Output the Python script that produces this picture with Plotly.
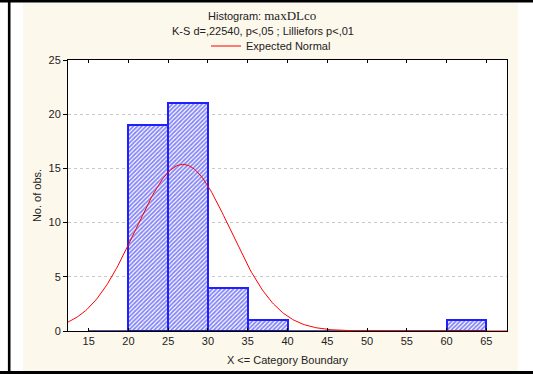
import numpy as np
import plotly.graph_objects as go

# Histogram bins (upper category boundaries) and counts
bin_lower = [15, 20, 25, 30, 35, 40, 45, 50, 55, 60]
bin_width = 5
counts = [0, 19, 21, 4, 1, 0, 0, 0, 0, 1]

# Expected normal parameters
n_obs = 46
mean_val = 26.85
sd_val = 5.97

x_ticks = [15, 20, 25, 30, 35, 40, 45, 50, 55, 60, 65]
y_ticks = [0, 5, 10, 15, 20, 25]

W, H = 533, 374
L, R, T, B = 68, 26, 60, 43
pw, ph = W - L - R, H - T - B


def px_x(p):
    return (p - L) / pw


def px_y(p):
    return (H - B - p) / ph


centers = [b + bin_width / 2 for b in bin_lower]

fig = go.Figure()

# zero-count categories drawn as a flat line on the baseline
fig.add_trace(go.Scatter(
    x=[bin_lower[0], bin_lower[-1] + bin_width], y=[0, 0],
    mode="lines", line=dict(color="#1a1a80", width=1.6),
    showlegend=False, hoverinfo="skip", cliponaxis=False,
))

fig.add_trace(go.Bar(
    x=[c for c, v in zip(centers, counts) if v > 0],
    y=[v for v in counts if v > 0],
    width=bin_width,
    marker=dict(
        color="white",
        line=dict(color="#2020ff", width=2),
        pattern=dict(shape="/", fgcolor="#0a0aee", bgcolor="white",
                     size=3, solidity=0.6),
    ),
    showlegend=False,
))

xs = np.linspace(12.4, 67.6, 300)
ys = n_obs * bin_width / (sd_val * np.sqrt(2 * np.pi)) * np.exp(-0.5 * ((xs - mean_val) / sd_val) ** 2)
fig.add_trace(go.Scatter(
    x=xs, y=ys, mode="lines", line=dict(color="#ff0000", width=1),
    name="Expected Normal",
))

shapes = [
    # cream panel
    dict(type="rect", xref="paper", yref="paper", layer="below",
         x0=px_x(23), x1=px_x(518), y0=px_y(371), y1=px_y(2.5),
         fillcolor="#fdf8ec", line=dict(width=0)),
    # white plotting area
    dict(type="rect", xref="paper", yref="paper", layer="below",
         x0=0, x1=1, y0=0, y1=1, fillcolor="white", line=dict(width=0)),
    # outer black frame lines
    dict(type="line", xref="paper", yref="paper", x0=px_x(0), x1=px_x(533),
         y0=px_y(1.2), y1=px_y(1.2), line=dict(color="black", width=2.6)),
    dict(type="line", xref="paper", yref="paper", x0=px_x(0), x1=px_x(533),
         y0=px_y(372.6), y1=px_y(372.6), line=dict(color="black", width=3)),
    dict(type="line", xref="paper", yref="paper", x0=px_x(9.2), x1=px_x(9.2),
         y0=px_y(0), y1=px_y(374), line=dict(color="black", width=2.6)),
]

font_main = "Liberation Sans, Arial, sans-serif"

annotations = [
    dict(text="Histogram: <span style='font-family:Liberation Serif, Times New Roman, serif;font-size:13px'>maxDLco</span>",
         xref="paper", yref="paper", x=px_x(262), y=px_y(16),
         xanchor="center", yanchor="middle", showarrow=False,
         font=dict(size=11, color="#222", family=font_main)),
    dict(text="K-S d=,22540, p<,05 ; Lilliefors p<,01",
         xref="paper", yref="paper", x=px_x(263), y=px_y(31),
         xanchor="center", yanchor="middle", showarrow=False,
         font=dict(size=11, color="#222", family=font_main)),
]

fig.update_layout(
    width=W, height=H,
    margin=dict(l=L, r=R, t=T, b=B),
    paper_bgcolor="white",
    plot_bgcolor="white",
    bargap=0,
    font=dict(family=font_main, size=11, color="#222"),
    shapes=shapes,
    annotations=annotations,
    showlegend=True,
    legend=dict(orientation="h", x=px_x(271), y=px_y(46), xanchor="center",
                yanchor="middle", bgcolor="rgba(0,0,0,0)",
                font=dict(size=11, color="#222", family=font_main),
                itemwidth=30),
    xaxis=dict(
        range=[12.4, 67.6], tickvals=x_ticks, ticks="inside", ticklen=3,
        tickcolor="black", showline=True, linecolor="black", linewidth=1,
        mirror="ticks", showgrid=False, zeroline=False, automargin=False,
        title=dict(text="X <= Category Boundary", standoff=10,
                   font=dict(size=11, family=font_main)),
        tickfont=dict(size=11),
    ),
    yaxis=dict(
        range=[0, 25], tickvals=y_ticks, ticks="outside", ticklen=4,
        tickcolor="black", showline=True, linecolor="black", linewidth=1,
        mirror=True, showgrid=True, gridcolor="#c8c8c8", automargin=False,
        griddash="3px,3px", gridwidth=1, zeroline=False,
        title=dict(text="No. of obs.", standoff=4,
                   font=dict(size=11, family=font_main)),
        tickfont=dict(size=11),
    ),
)

fig.write_html("out.html")
